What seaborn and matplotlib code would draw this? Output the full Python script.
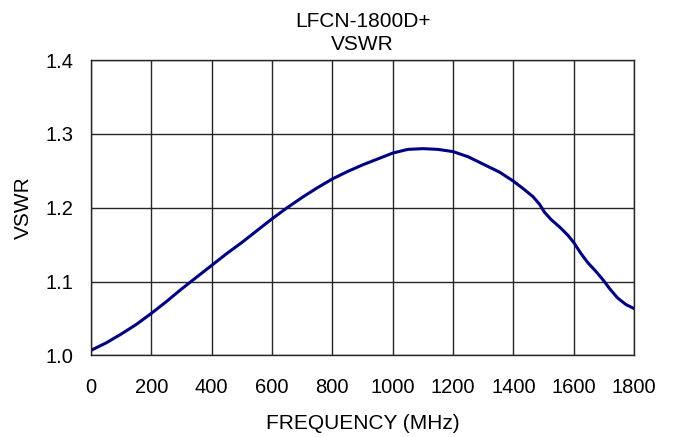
import numpy as np
import pandas as pd
import seaborn as sns
from matplotlib import pyplot as plt

# values
freq_mhz = [0, 50, 100, 150, 200, 250, 300, 350, 400, 450, 500, 550, 600,
            650, 700, 750, 800, 850, 900, 950, 1000, 1050, 1100, 1150, 1200,
            1250, 1300, 1355, 1400, 1432, 1465, 1487, 1503, 1525, 1553, 1580,
            1600, 1624, 1646, 1673, 1696, 1718, 1745, 1773, 1800]
vswr = [1.007, 1.017, 1.029, 1.042, 1.057, 1.073, 1.090, 1.106, 1.122, 1.138,
        1.153, 1.169, 1.185, 1.200, 1.214, 1.227, 1.239, 1.249, 1.258, 1.266,
        1.274, 1.279, 1.280, 1.279, 1.276, 1.269, 1.259, 1.248, 1.236, 1.226,
        1.215, 1.2045, 1.194, 1.184, 1.174, 1.163, 1.153, 1.138, 1.126, 1.114,
        1.103, 1.091, 1.078, 1.069, 1.0635]
x_ticks = [0, 200, 400, 600, 800, 1000, 1200, 1400, 1600, 1800]
y_ticks = [1.0, 1.1, 1.2, 1.3, 1.4]

df = pd.DataFrame({'freq': freq_mhz, 'vswr': vswr})

sns.set_style('white')
plt.rcParams['font.family'] = ['Liberation Sans', 'DejaVu Sans']
plt.rcParams['text.color'] = 'black'
plt.rcParams['axes.labelcolor'] = 'black'
plt.rcParams['xtick.color'] = 'black'
plt.rcParams['ytick.color'] = 'black'

fig = plt.figure(figsize=(6.76, 4.37), dpi=100)
ax = fig.add_axes([0.1346, 0.1865, 0.8034, 0.6762])

sns.lineplot(data=df, x='freq', y='vswr', color='#000080', linewidth=2.2, ax=ax)

ax.set_xlim(0, 1800)
ax.set_ylim(1.0, 1.4)
ax.set_xticks(x_ticks)
ax.set_yticks(y_ticks)
ax.set_yticklabels([f'{v:.1f}' for v in y_ticks])
ax.grid(True, color='#262626', linewidth=1.0)
for s in ax.spines.values():
    s.set_color('#262626')
    s.set_linewidth(1.0)
ax.tick_params(axis='both', direction='out', length=5.5, width=1, color='#262626',
               labelsize=14.5, labelcolor='black')
ax.tick_params(axis='x', pad=11)
ax.tick_params(axis='y', pad=7)

ax.set_xlabel('FREQUENCY (MHz)', fontsize=15, labelpad=12)
ax.set_ylabel('VSWR', fontsize=15, labelpad=9)
ax.set_title('LFCN-1800D+\nVSWR', fontsize=15, pad=7, linespacing=1.28, color='black')

fig.savefig('out.png', dpi=100)
